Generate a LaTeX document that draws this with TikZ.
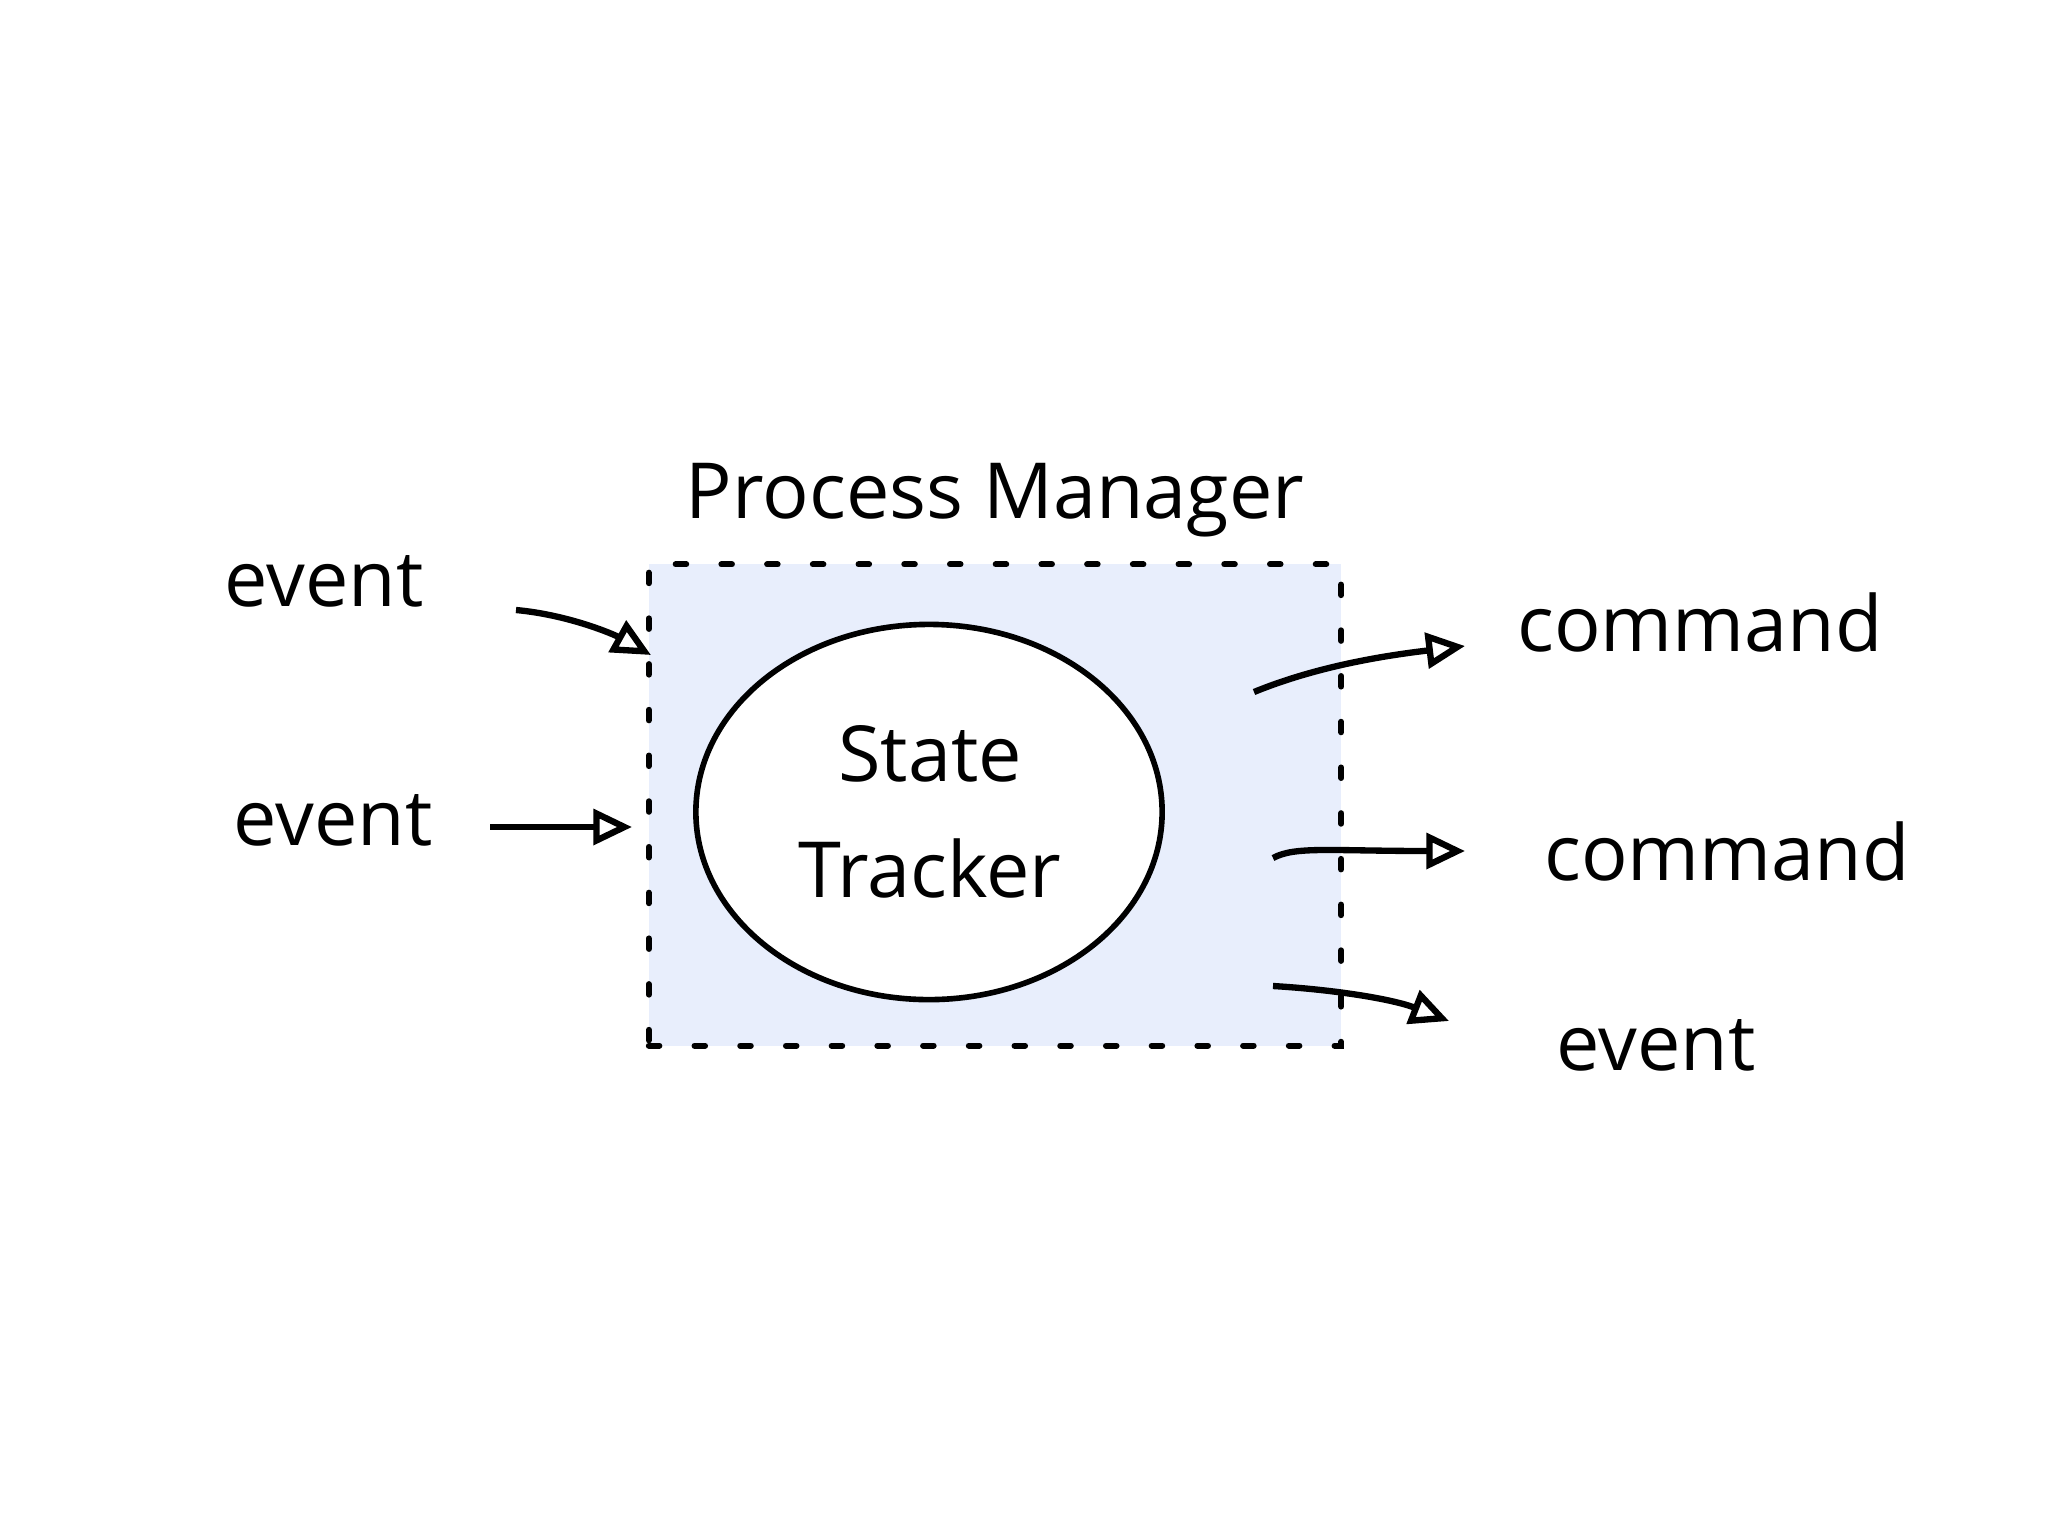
\documentclass[tikz,border=0pt]{standalone}
\usepackage{fontspec}
\setmainfont{Open Sans}
\usetikzlibrary{arrows.meta,shapes.geometric}
\definecolor{boxfill}{RGB}{232,238,252}
\tikzset{
  lbl/.style={font=\fontsize{22pt}{27pt}\selectfont, inner sep=0pt, align=center},
  pmbox/.style={draw=black, fill=boxfill, line width=1.7pt, dash pattern=on 3pt off 10pt, line cap=round, inner sep=0pt},
  tracker/.style={ellipse, draw=black, fill=white, line width=1.6pt, inner sep=0pt},
  flow/.style={line width=1.8pt, -{Triangle[open, length=11pt, width=10pt]}}
}
\begin{document}
\begin{tikzpicture}[x=0.01cm, y=-0.01cm]
\useasboundingbox (0,0) rectangle (2048,1536);
\fill[white] (0,0) rectangle (2048,1536);

% Process manager box
\node[pmbox, minimum width=6.92cm, minimum height=4.81cm] (pm) at (995,805) {};
\node[lbl] (pmlabel) at (995,500) {Process Manager};

% State tracker
\node[tracker, minimum width=4.66cm, minimum height=3.75cm] (st) at (929,812) {};
\node[lbl] (stlabel) at (930,812) {State\\[6pt]Tracker};

% Input labels
\node[lbl] (ev1) at (324,581) {event};
\node[lbl] (ev2) at (333,820) {event};

% Output labels
\node[lbl] (cmd1) at (1700,622) {command};
\node[lbl] (cmd2) at (1727,851) {command};
\node[lbl] (ev3) at (1656,1045) {event};

% arrow endpoints
\coordinate (i1s) at (516,610);
\coordinate (i1e) at (651,655);
\coordinate (i2s) at (490,827);
\coordinate (i2e) at (632,827);
\coordinate (o1s) at (1254,692);
\coordinate (o1e) at (1465,646);
\coordinate (o2s) at (1273,858);
\coordinate (o2e) at (1465,851);
\coordinate (o3s) at (1273,986);
\coordinate (o3e) at (1449,1021);

\draw[flow] (i1s) .. controls (570,615) and (615,635) .. (i1e);
\draw[flow] (i2s) -- (i2e);
\draw[flow] (o1s) .. controls (1320,665) and (1390,655) .. (o1e);
\draw[flow] (o2s) .. controls (1295,846) and (1330,851) .. (o2e);
\draw[flow] (o3s) .. controls (1340,990) and (1395,1000) .. (o3e);
\end{tikzpicture}
\end{document}
